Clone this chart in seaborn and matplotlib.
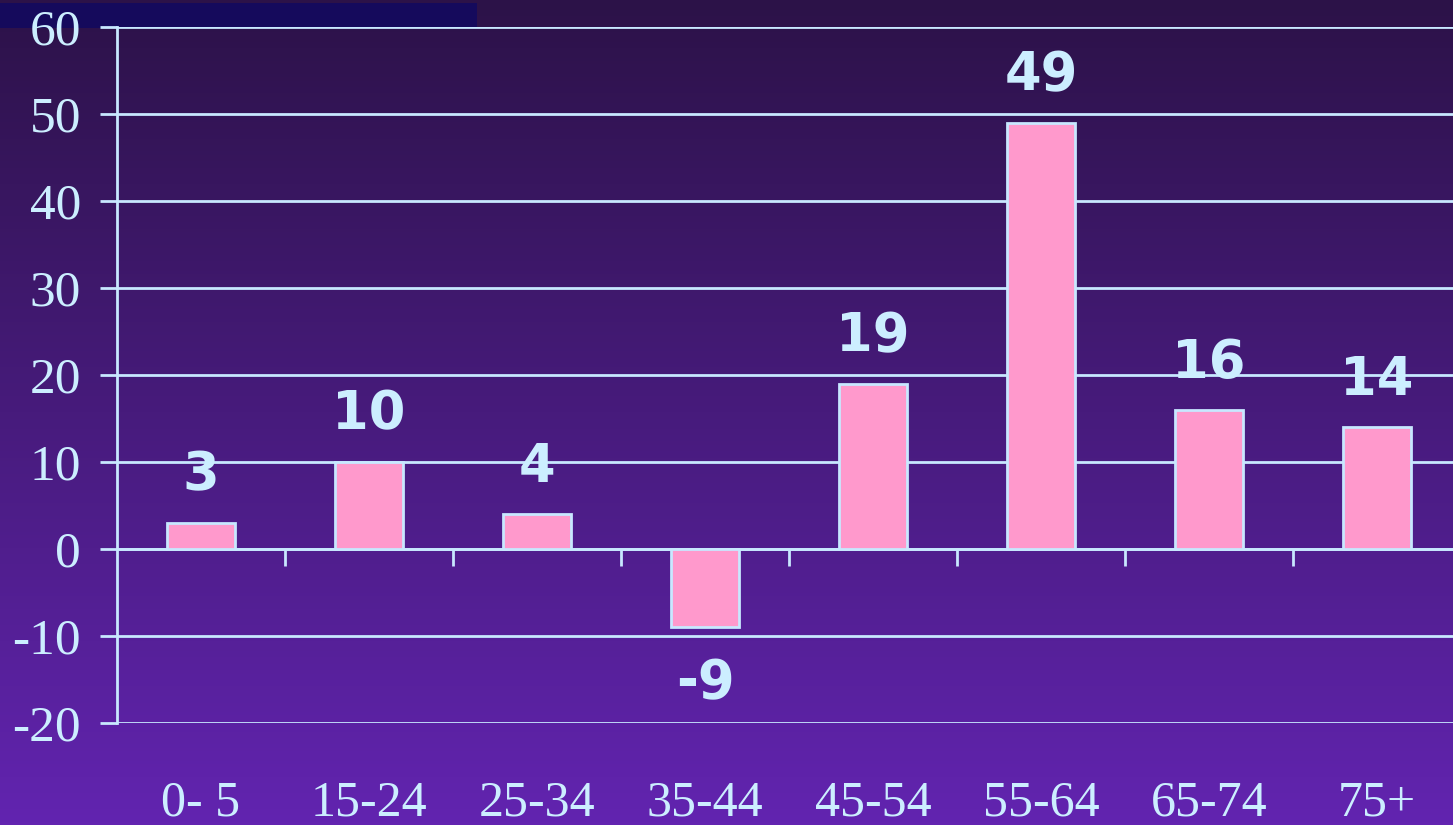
import numpy as np
import pandas as pd
import matplotlib
matplotlib.use("Agg")
import matplotlib.pyplot as plt
import matplotlib.transforms as mtransforms
from matplotlib.patches import Rectangle
import seaborn as sns

# ------------------------------
# Data
# ------------------------------
age_groups = ['0- 5', '15-24', '25-34', '35-44', '45-54', '55-64', '65-74', '75+']
change = [3, 10, 4, -9, 19, 49, 16, 14]
y_ticks = [-20, -10, 0, 10, 20, 30, 40, 50, 60]

df = pd.DataFrame({'age': age_groups, 'change': change})

line_col = '#c8e8ff'
text_col = '#cceeff'
bar_col = '#ff99cc'

sns.set_style('white')

fig = plt.figure(figsize=(14.53, 8.25), dpi=100)

# background gradient
bg = fig.add_axes([0, 0, 1, 1], zorder=-10)
top = np.array([44, 18, 72]) / 255
bottom = np.array([98, 36, 176]) / 255
t = np.linspace(0, 1, 256)[:, None]
grad = (top * (1 - t) + bottom * t)[:, None, :]
bg.imshow(grad, aspect='auto', extent=[0, 1, 0, 1])
bg.axis('off')

# dark blue strip in the top left corner
fig.patches.append(Rectangle((0, 1 - 28 / 825), 477 / 1453, 25 / 825,
                             transform=fig.transFigure, facecolor='#150a5c',
                             edgecolor='none', zorder=-5))

# ------------------------------
# Bar chart
# ------------------------------
ax = fig.add_axes([117 / 1453, 102 / 825, 1344 / 1453, 696 / 825])
ax.set_facecolor('none')

sns.barplot(x='age', y='change', data=df, color=bar_col, width=0.4,
            edgecolor=line_col, linewidth=2, saturation=1, ax=ax, zorder=3)

ax.set_xlim(-0.5, len(age_groups) - 0.5)
ax.set_ylim(-20, 60)
ax.set_yticks(y_ticks)
ax.set_yticklabels([str(v) for v in y_ticks], family='Liberation Serif',
                   fontsize=37, color=text_col)
ax.tick_params(axis='y', left=True, length=12, width=2, color=line_col,
               pad=14, direction='out')
ax.yaxis.grid(True, color=line_col, linewidth=2)
ax.set_axisbelow(True)

for s in ['top', 'right']:
    ax.spines[s].set_visible(False)
ax.spines['left'].set_color(line_col)
ax.spines['left'].set_linewidth(2)
ax.spines['bottom'].set_position(('data', 0))
ax.spines['bottom'].set_color(line_col)
ax.spines['bottom'].set_linewidth(2)

ax.set_xticks(np.arange(len(age_groups) - 1) + 0.5)
ax.set_xticklabels([])
ax.tick_params(axis='x', bottom=True, length=12, width=2, color=line_col,
               direction='out')
ax.set_xlabel('')
ax.set_ylabel('')

# category labels below the plot
trans = mtransforms.blended_transform_factory(ax.transData, ax.transAxes)
for i, name in enumerate(age_groups):
    ax.text(i, -0.115, name, transform=trans, ha='center', va='center',
            family='Liberation Serif', fontsize=36, color=text_col)

# value labels
for i, v in enumerate(change):
    off = 34 if v >= 0 else -40
    ax.annotate(str(v), (i, v), xytext=(0, off), textcoords='offset points',
                ha='center', va='center', fontsize=38, fontweight='bold',
                color=text_col, family='DejaVu Sans', annotation_clip=False)

plt.savefig('out.png', dpi=100)
plt.close()
